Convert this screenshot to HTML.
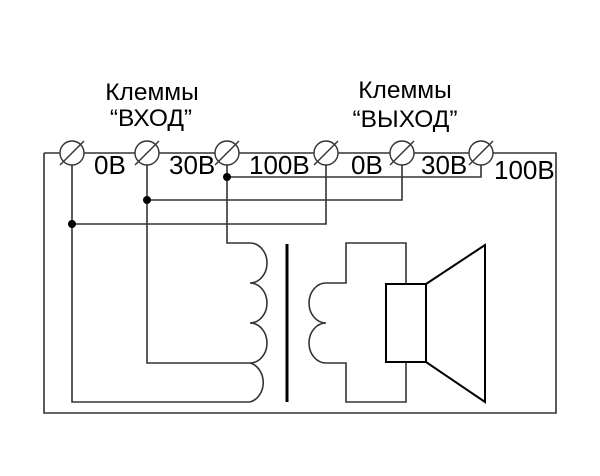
<!DOCTYPE html>
<html><head><meta charset="utf-8"><style>
html,body{margin:0;padding:0;background:#fff;}
svg{display:block;}
text{font-family:"Liberation Sans",sans-serif;fill:#000;}
</style></head><body>
<svg width="600" height="476" viewBox="0 0 600 476" xmlns="http://www.w3.org/2000/svg">
<rect width="600" height="476" fill="#fff"/>
<g fill="none" stroke="#333" stroke-width="1.6">
<polyline points="44,153 44,413 556,413 556,153 44,153"/>
<polyline points="72,153 72,402 250,402"/>
<polyline points="147,153 147,363 250,363"/>
<polyline points="227,153 227,243 250,243"/>
<polyline points="227,177 481,177 481,153"/>
<polyline points="147,200 402,200 402,153"/>
<polyline points="72,224 326,224 326,153"/>
<path d="M250,243 A17,20 0 0 1 250,283 A17,20 0 0 1 250,323 A17,20 0 0 1 250,363 A17,20 0 0 1 250,402"/>
<path d="M326,283 A17,20 0 0 0 326,323 A17,20 0 0 0 326,363"/>
<polyline points="326,283 346,283 346,243 406,243 406,284"/>
<polyline points="326,363 346,363 346,402 406,402 406,362"/>
</g>
<line x1="287" y1="244" x2="287" y2="402" stroke="#000" stroke-width="3"/>
<g fill="none" stroke="#000" stroke-width="2">
<rect x="386" y="284" width="40" height="78"/>
<polyline points="426,284 485,245 485,402 426,362"/>
</g>
<g fill="#000">
<circle cx="227" cy="177" r="4"/>
<circle cx="147" cy="200" r="4"/>
<circle cx="72" cy="224" r="4"/>
</g>
<g stroke="#333" stroke-width="1.4" fill="#fff">
<circle cx="72" cy="153" r="12"/>
<circle cx="147" cy="153" r="12"/>
<circle cx="227" cy="153" r="12"/>
<circle cx="326" cy="153" r="12"/>
<circle cx="402" cy="153" r="12"/>
<circle cx="481" cy="153" r="12"/>
</g>
<g stroke="#333" stroke-width="1.4">
<line x1="60" y1="165" x2="84" y2="141"/>
<line x1="135" y1="165" x2="159" y2="141"/>
<line x1="215" y1="165" x2="239" y2="141"/>
<line x1="314" y1="165" x2="338" y2="141"/>
<line x1="390" y1="165" x2="414" y2="141"/>
<line x1="469" y1="165" x2="493" y2="141"/>
</g>
<g font-size="26">
<text x="94" y="174">0В</text>
<text x="169" y="174">30В</text>
<text x="249" y="174">100В</text>
<text x="351" y="174">0В</text>
<text x="421" y="174">30В</text>
<text x="494" y="179">100В</text>
</g>
<g font-size="24.5" text-anchor="middle">
<text x="152" y="100">Клеммы</text>
<text x="151" y="126">“ВХОД”</text>
<text x="405" y="98">Клеммы</text>
<text x="405" y="127">“ВЫХОД”</text>
</g>
</svg>
</body></html>
